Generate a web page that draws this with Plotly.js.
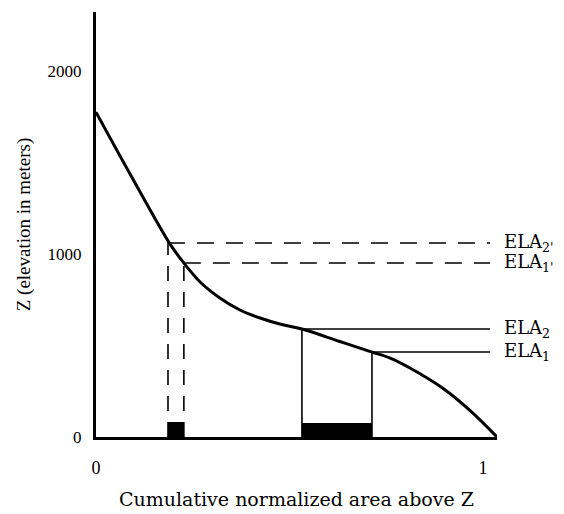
<!DOCTYPE html>
<html>
<head>
<meta charset="utf-8">
<script src="https://cdn.plot.ly/plotly-3.0.1.min.js"></script>
<style>html,body{margin:0;padding:0;background:#fff;}#chart{width:564px;height:514px;}</style>
</head>
<body>
<div id="chart"></div>
<script>
// Hypsometric curve: cumulative normalized area above Z vs elevation Z
var curveArea = [0.0, 0.088, 0.191, 0.217, 0.269, 0.320, 0.372, 0.424, 0.475, 0.532, 0.630, 0.713, 0.760, 0.811, 0.897, 0.966, 1.036];
var curveZ    = [1775, 1437, 1055, 978, 847, 760, 694, 650, 617, 590, 522, 464, 431, 377, 265, 145, 0];

// ELA levels
var elaLabels = ["ELA<sub>2'</sub>", "ELA<sub>1'</sub>", "ELA<sub>2</sub>", "ELA<sub>1</sub>"];
var elaZ      = [1060, 951, 590, 464];
var elaArea   = [0.186, 0.227, 0.532, 0.713];
var elaEndArea = 1.018;
var elaDashed = [true, true, false, false];

// Bars of area change between paired ELAs
var barHeights = [82, 77];

var serif = "Liberation Serif";
var serifWide = "DejaVu Serif";
var traces = [];

traces.push({
  x: curveArea, y: curveZ, type: "scatter", mode: "lines",
  line: {color: "#000", width: 3, shape: "spline", smoothing: 1},
  hoverinfo: "skip", showlegend: false
});

var annotations = [];
for (var i = 0; i < elaZ.length; i++) {
  var dash = elaDashed[i] ? "17px,12px" : "solid";
  traces.push({
    x: [elaArea[i], elaEndArea], y: [elaZ[i], elaZ[i]], type: "scatter", mode: "lines",
    line: {color: "#000", width: 1.6, dash: dash}, showlegend: false, hoverinfo: "skip"
  });
  traces.push({
    x: [elaArea[i], elaArea[i]], y: [0, elaZ[i]], type: "scatter", mode: "lines",
    line: {color: "#000", width: 1.6, dash: elaDashed[i] ? "15px,11px" : "solid"}, showlegend: false, hoverinfo: "skip"
  });
  annotations.push({
    x: 1, xref: "paper", y: elaZ[i], yref: "y", text: elaLabels[i],
    showarrow: false, xanchor: "left", yanchor: "middle", xshift: 5,
    font: {family: serifWide, size: 18, color: "#000"}
  });
}

var barX = [], barW = [];
for (var j = 0; j < 2; j++) {
  var a = elaArea[2*j], b = elaArea[2*j+1];
  barX.push((a + b) / 2);
  barW.push(b - a);
}
traces.push({
  x: barX, y: barHeights, width: barW, type: "bar",
  marker: {color: "#000", line: {width: 0}}, showlegend: false, hoverinfo: "skip"
});

var layout = {
  width: 564, height: 514,
  margin: {l: 96, r: 67, t: 12, b: 77},
  paper_bgcolor: "#fff", plot_bgcolor: "#fff",
  showlegend: false,
  xaxis: {
    range: [0, 1.036], showgrid: false, zeroline: false,
    showline: true, linecolor: "#000", linewidth: 3,
    tickvals: [0, 1], ticktext: ["0", "1"], ticks: "",
    ticklabelstandoff: 12,
    tickfont: {family: serif, size: 18, color: "#000"},
    title: {text: "Cumulative normalized area above Z", font: {family: serifWide, size: 19, color: "#000"}, standoff: 17}
  },
  yaxis: {
    range: [0, 2322], showgrid: false, zeroline: false,
    showline: true, linecolor: "#000", linewidth: 3,
    tickvals: [0, 1000, 2000], ticktext: ["0", "1000", "2000"], ticks: "",
    ticklabelstandoff: 8,
    tickfont: {family: serif, size: 17, color: "#000"},
    title: {text: "Z (elevation in meters)", font: {family: serif, size: 19, color: "#000"}, standoff: 12}
  },
  annotations: annotations,
  bargap: 0
};

Plotly.newPlot("chart", traces, layout, {displayModeBar: false, staticPlot: true});
</script>
</body>
</html>
